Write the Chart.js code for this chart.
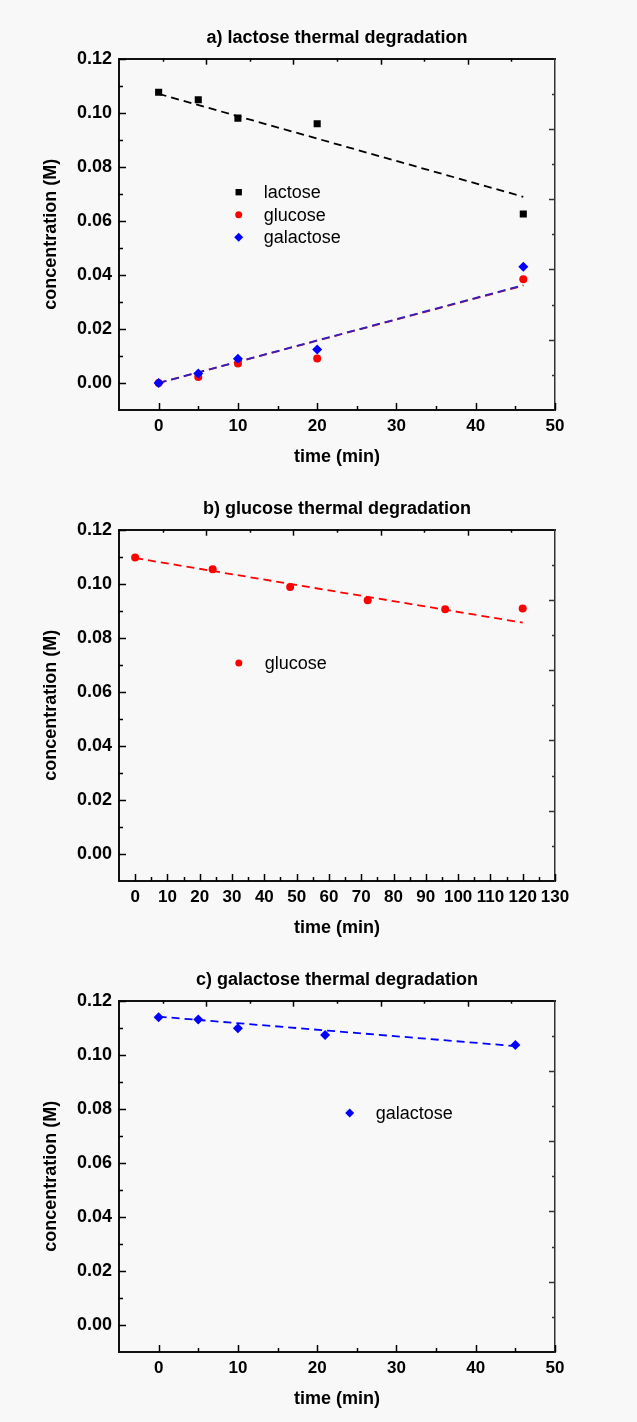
<!DOCTYPE html>
<html>
<head>
<meta charset="utf-8">
<script src="https://cdn.jsdelivr.net/npm/chart.js@4.4.1/dist/chart.umd.min.js"></script>
<style>
  html, body { margin: 0; padding: 0; background: #f8f8f8; }
  body { width: 637px; height: 1422px; position: relative; overflow: hidden; }
  .panel { position: absolute; left: 0; }
</style>
</head>
<body>
<canvas id="chartA" class="panel" width="637" height="471" style="top:0px"></canvas>
<canvas id="chartB" class="panel" width="637" height="471" style="top:471px"></canvas>
<canvas id="chartC" class="panel" width="637" height="471" style="top:942px"></canvas>
<script>
// a) lactose thermal degradation
const timeA = [0, 5, 10, 20, 46];
const lactoseA = [0.1076, 0.1048, 0.0980, 0.0959, 0.0625];
const glucoseA = [0.0000, 0.0022, 0.0072, 0.0091, 0.0384];
const galactoseA = [0.0000, 0.0035, 0.0090, 0.0124, 0.0430];
const fitTimeA = [0, 46];
const lactoseFitA = [0.1070, 0.0689];
const glucoseFitA = [0.0000, 0.0360];
const galactoseFitA = [0.0000, 0.0362];

// b) glucose thermal degradation
const timeB = [0, 24, 48, 72, 96, 120];
const glucoseB = [0.1097, 0.1054, 0.0988, 0.0939, 0.0906, 0.0908];
const fitTimeB = [0, 120];
const glucoseFitB = [0.1095, 0.0856];

// c) galactose thermal degradation
const timeC = [0, 5, 10, 21, 45];
const galactoseC = [0.1139, 0.1130, 0.1098, 0.1073, 0.1036];
const fitTimeC = [0, 45];
const galactoseFitC = [0.1141, 0.1032];

// tick labels / tick marks
const concTicks = [0, 0.02, 0.04, 0.06, 0.08, 0.10, 0.12];
const concMinor = [0.01, 0.03, 0.05, 0.07, 0.09, 0.11];
const time50Ticks = [0, 10, 20, 30, 40, 50];
const time50Minor = [5, 15, 25, 35, 45];
const time130Ticks = [0, 10, 20, 30, 40, 50, 60, 70, 80, 90, 100, 110, 120, 130];
const time130Minor = [5, 15, 25, 35, 45, 55, 65, 75, 85, 95, 105, 115, 125];
const frameMajor = [2, 4, 6, 8];
const frameMinor = [1, 3, 5, 7, 9];

Chart.defaults.font.family = '"Liberation Sans", Arial, sans-serif';
Chart.defaults.color = '#000';

function pts(xs, ys) {
    return xs.map((x, i) => ({ x: x, y: ys[i] }));
}

function drawMarker(ctx, style, x, y, r, color) {
    ctx.fillStyle = color;
    ctx.beginPath();
    if (style === 'rect') {
        const s = r * Math.SQRT1_2;
        ctx.rect(x - s, y - s, 2 * s, 2 * s);
    } else if (style === 'rectRot') {
        ctx.moveTo(x, y - r);
        ctx.lineTo(x + r, y);
        ctx.lineTo(x, y + r);
        ctx.lineTo(x - r, y);
        ctx.closePath();
    } else {
        ctx.arc(x, y, r, 0, Math.PI * 2);
    }
    ctx.fill();
}

// Origin-style inward ticks on all four sides
const innerTicks = {
    id: 'innerTicks',
    afterDatasetsDraw(chart, args, opts) {
        const ctx = chart.ctx;
        const area = chart.chartArea;
        ctx.save();
        ctx.lineWidth = 1.5;
        (opts.marks || []).forEach(m => {
            const scale = chart.scales[m.axis];
            ctx.strokeStyle = m.color || '#000';
            m.values.forEach(v => {
                const p = Math.round(scale.getPixelForValue(v)) + 0.5;
                ctx.beginPath();
                if (scale.position === 'bottom') {
                    ctx.moveTo(p, area.bottom); ctx.lineTo(p, area.bottom - m.len);
                } else if (scale.position === 'top') {
                    ctx.moveTo(p, area.top); ctx.lineTo(p, area.top + m.len);
                } else if (scale.position === 'left') {
                    ctx.moveTo(area.left, p); ctx.lineTo(area.left + m.len, p);
                } else {
                    ctx.moveTo(area.right, p); ctx.lineTo(area.right - m.len, p);
                }
                ctx.stroke();
            });
        });
        ctx.restore();
    }
};

// legend drawn inside the plot, anchored in data coordinates
const pointLegend = {
    id: 'pointLegend',
    afterDatasetsDraw(chart, args, opts) {
        if (!opts.items) return;
        const ctx = chart.ctx;
        const x0 = chart.scales.x.getPixelForValue(opts.x);
        const y0 = chart.scales.y.getPixelForValue(opts.y);
        ctx.save();
        ctx.font = '18px "Liberation Sans", Arial, sans-serif';
        ctx.textBaseline = 'middle';
        opts.items.forEach((label, i) => {
            const ds = chart.data.datasets.find(d => d.label === label);
            const y = y0 + i * opts.rowGap;
            drawMarker(ctx, ds.pointStyle, x0, y, ds.pointRadius - 0.5, ds.backgroundColor);
            ctx.fillStyle = '#000';
            ctx.fillText(label, x0 + opts.textGap, y + 1);
        });
        ctx.restore();
    }
};

function scatterSet(label, xs, ys, style, color, radius, order) {
    return {
        label: label, data: pts(xs, ys), pointStyle: style, pointRadius: radius,
        backgroundColor: color, borderColor: color, borderWidth: 0, showLine: false, order: order
    };
}

function fitSet(label, xs, ys, color, order) {
    return {
        label: label, data: pts(xs, ys), showLine: true, pointRadius: 0, borderColor: color,
        borderWidth: 1.8, borderDash: [8, 5], fill: false, order: order || 10
    };
}

function makePanel(id, title, xMax, xTicks, xMinor, datasets, legend) {
    const bold = size => ({ size: size, weight: 'bold' });
    new Chart(document.getElementById(id), {
        type: 'scatter',
        data: { datasets: datasets },
        options: {
            responsive: false,
            animation: false,
            layout: { padding: { left: 0, right: 82, top: 0, bottom: 0 } },
            plugins: {
                legend: { display: false },
                tooltip: { enabled: false },
                pointLegend: legend,
                innerTicks: {
                    marks: [
                        { axis: 'x', values: xTicks, len: 7 },
                        { axis: 'x', values: xMinor, len: 4 },
                        { axis: 'y', values: concTicks, len: 7 },
                        { axis: 'y', values: concMinor, len: 4 },
                        { axis: 'x2', values: frameMajor, len: 6 },
                        { axis: 'x2', values: frameMinor, len: 3 },
                        { axis: 'y2', values: frameMajor, len: 6, color: '#333' },
                        { axis: 'y2', values: frameMinor, len: 3, color: '#333' }
                    ]
                }
            },
            scales: {
                x: {
                    type: 'linear', position: 'bottom', min: -5, max: xMax,
                    afterBuildTicks: s => { s.ticks = xTicks.map(v => ({ value: v })); },
                    afterFit: s => { s.height = 61; },
                    grid: { display: false, drawTicks: false },
                    border: { color: '#111', width: 2 },
                    ticks: { padding: 6, font: bold(17), maxRotation: 0, autoSkip: false, callback: v => String(v) },
                    title: { display: true, text: 'time (min)', font: bold(18), padding: { top: 0, bottom: 3 } }
                },
                y: {
                    type: 'linear', position: 'left', min: -0.01, max: 0.12,
                    afterBuildTicks: s => { s.ticks = concTicks.map(v => ({ value: v })); },
                    afterFit: s => { s.width = 119; },
                    grid: { display: false, drawTicks: false },
                    border: { color: '#111', width: 2 },
                    ticks: { padding: 7, font: bold(18), callback: v => v.toFixed(2) },
                    title: { display: true, text: 'concentration (M)', font: bold(18), padding: { top: 40, bottom: 0 } }
                },
                x2: {
                    type: 'linear', position: 'top', min: 0, max: 10,
                    afterFit: s => { s.height = 58.7; },
                    grid: { display: false, drawTicks: false },
                    border: { color: '#111', width: 2 },
                    ticks: { display: false },
                    title: { display: true, text: title, font: bold(18), padding: { top: 27, bottom: 0 } }
                },
                y2: {
                    type: 'linear', position: 'right', min: 0, max: 10,
                    afterFit: s => { s.width = 0; },
                    grid: { display: false, drawTicks: false },
                    border: { color: '#333', width: 1.5 },
                    ticks: { display: false }
                }
            }
        },
        plugins: [innerTicks, pointLegend]
    });
}

makePanel('chartA', 'a) lactose thermal degradation', 50, time50Ticks, time50Minor, [
    scatterSet('lactose', timeA, lactoseA, 'rect', '#000000', 5, 3),
    scatterSet('glucose', timeA, glucoseA, 'circle', '#ff0000', 4, 2),
    scatterSet('galactose', timeA, galactoseA, 'rectRot', '#0000ff', 5, 1),
    fitSet('lactose fit', fitTimeA, lactoseFitA, '#000000', 10),
    fitSet('glucose fit', fitTimeA, glucoseFitA, '#d01020', 11),
    fitSet('galactose fit', fitTimeA, galactoseFitA, '#3020c0', 9)
], { items: ['lactose', 'glucose', 'galactose'], x: 10.1, y: 0.0706, rowGap: 22.5, textGap: 25 });

makePanel('chartB', 'b) glucose thermal degradation', 130, time130Ticks, time130Minor, [
    scatterSet('glucose', timeB, glucoseB, 'circle', '#ff0000', 4, 1),
    fitSet('glucose fit', fitTimeB, glucoseFitB, '#ff0000')
], { items: ['glucose'], x: 32.1, y: 0.0707, rowGap: 22.5, textGap: 26 });

makePanel('chartC', 'c) galactose thermal degradation', 50, time50Ticks, time50Minor, [
    scatterSet('galactose', timeC, galactoseC, 'rectRot', '#0000ff', 5, 1),
    fitSet('galactose fit', fitTimeC, galactoseFitC, '#0000ff')
], { items: ['galactose'], x: 24.1, y: 0.0784, rowGap: 22.5, textGap: 26 });
</script>
</body>
</html>
